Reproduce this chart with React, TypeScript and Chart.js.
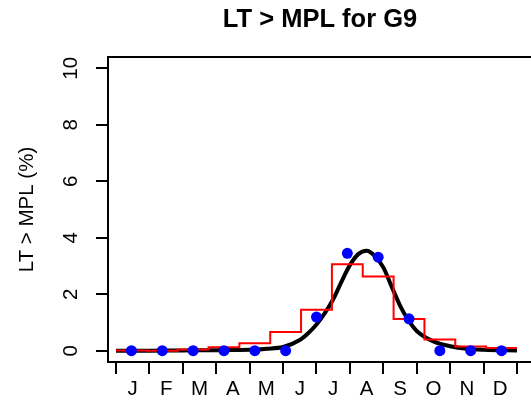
import React, { useEffect, useRef } from 'react';
import { Chart, registerables } from 'chart.js';

Chart.register(...registerables);

const chartTitle = 'LT > MPL for G9';
const yAxisTitle = 'LT > MPL (%)';
const monthLabels = ['J', 'F', 'M', 'A', 'M', 'J', 'J', 'A', 'S', 'O', 'N', 'D'];
const monthBoundaries = [0, 1, 2, 3, 4, 5, 6, 7, 8, 9, 10, 11, 12];
const yTickValues = [0, 2, 4, 6, 8, 10];
const periodCount = 13;
const observedPct = [0, 0, 0, 0, 0, 0, 1.19, 3.45, 3.31, 1.13, 0, 0, 0];
const stepPct = [0.01, 0.0, 0.04, 0.12, 0.26, 0.66, 1.45, 3.06, 2.63, 1.12, 0.4, 0.15, 0.1];
const fitMonths = [0, 1, 2, 3, 4, 4.5, 5, 5.5, 5.75, 6, 6.25, 6.5, 6.75, 7, 7.25, 7.5, 7.75, 8, 8.25, 8.5, 8.75, 9, 9.5, 10, 10.5, 11, 12];
const fitPct = [0, 0, 0.01, 0.02, 0.03, 0.07, 0.13, 0.38, 0.62, 0.93, 1.33, 1.82, 2.45, 3.03, 3.42, 3.54, 3.35, 2.95, 2.27, 1.6, 1.08, 0.7, 0.33, 0.16, 0.07, 0.035, 0.01];

const FONT = '"Liberation Sans", Arial, Helvetica, sans-serif';

const framePlugin = {
  id: 'rframe',
  afterDraw(chart: any) {
    const { ctx, chartArea: a, scales } = chart;
    ctx.save();
    ctx.strokeStyle = '#000';
    ctx.lineWidth = 2;
    ctx.strokeRect(a.left, a.top, a.right - a.left, a.bottom - a.top);
    const y = scales.y;
    ctx.fillStyle = '#000';
    ctx.font = `20.5px ${FONT}`;
    ctx.textAlign = 'center';
    ctx.textBaseline = 'middle';
    y.ticks.forEach((t: any) => {
      const py = y.getPixelForValue(t.value);
      ctx.save();
      ctx.translate(a.left - 37, py);
      ctx.rotate(-Math.PI / 2);
      ctx.fillText(String(t.value), 0, 0);
      ctx.restore();
    });
    ctx.font = `bold 25.5px ${FONT}`;
    ctx.fillText(chartTitle, (a.left + a.right) / 2, 20);
    ctx.restore();
  },
};

export default function App() {
  const ref = useRef<HTMLCanvasElement | null>(null);

  useEffect(() => {
    if (!ref.current) return;
    const w = 12 / periodCount;
    const stepData = stepPct.map((v, i) => ({ x: i * w, y: v }));
    stepData.push({ x: periodCount * w, y: stepPct[periodCount - 1] });
    const pointData = observedPct.map((v, i) => ({ x: (i + 0.5) * w, y: v }));
    const fitData = fitMonths.map((m, i) => ({ x: m, y: fitPct[i] }));
    const monthCenters = monthLabels.map((_, i) => i + 0.5);
    const xTickValues = [...monthBoundaries, ...monthCenters].sort((p, q) => p - q);

    const chart = new Chart(ref.current, {
      type: 'scatter',
      data: {
        datasets: [
          {
            label: 'fit',
            data: fitData,
            showLine: true,
            borderColor: '#000000',
            borderWidth: 4,
            pointRadius: 0,
            cubicInterpolationMode: 'monotone',
            order: 2,
          } as any,
          {
            label: 'monthly',
            data: stepData,
            showLine: true,
            stepped: 'before',
            borderColor: '#ff0000',
            borderWidth: 2,
            pointRadius: 0,
            order: 1,
          } as any,
          {
            label: 'observed',
            data: pointData,
            showLine: false,
            backgroundColor: '#0000ff',
            borderWidth: 0,
            pointRadius: 5.5,
            order: 0,
          } as any,
        ],
      },
      options: {
        animation: false,
        responsive: false,
        devicePixelRatio: 1,
        layout: { padding: { top: 57, right: 8, left: 0, bottom: 0 } },
        plugins: { legend: { display: false }, tooltip: { enabled: false } },
        scales: {
          x: {
            type: 'linear',
            min: -0.24,
            max: 12.45,
            afterBuildTicks: (s: any) => {
              s.ticks = xTickValues.map((v) => ({ value: v }));
            },
            afterFit: (s: any) => {
              s.height = 45;
            },
            ticks: {
              autoSkip: false,
              maxRotation: 0,
              minRotation: 0,
              padding: 3,
              color: '#000',
              font: { family: FONT, size: 20.5 },
              callback: (v: any) => (monthBoundaries.includes(v) ? '' : monthLabels[Math.floor(v)]),
            },
            grid: {
              display: true,
              drawOnChartArea: false,
              drawTicks: true,
              tickLength: 12,
              lineWidth: 2,
              color: (c: any) =>
                c.tick && monthBoundaries.includes(c.tick.value) ? '#000' : 'rgba(0,0,0,0)',
            },
            border: { display: false },
          },
          y: {
            type: 'linear',
            min: -0.4,
            max: 10.4,
            afterBuildTicks: (s: any) => {
              s.ticks = yTickValues.map((v) => ({ value: v }));
            },
            afterFit: (s: any) => {
              s.width = 108;
            },
            ticks: { display: false },
            grid: {
              display: true,
              drawOnChartArea: false,
              drawTicks: true,
              tickLength: 12,
              lineWidth: 2,
              color: '#000',
            },
            border: { display: false },
            title: {
              display: true,
              text: yAxisTitle,
              color: '#000',
              font: { family: FONT, size: 20.5 },
              padding: { top: 14.7, bottom: 0 },
            },
          },
        },
      },
      plugins: [framePlugin],
    });
    return () => chart.destroy();
  }, []);

  return (
    <div
      style={{
        position: 'fixed',
        left: 0,
        top: 0,
        width: 531,
        height: 407,
        overflow: 'hidden',
        background: '#fff',
      }}
    >
      <canvas ref={ref} width={540} height={407} style={{ display: 'block' }} />
    </div>
  );
}
